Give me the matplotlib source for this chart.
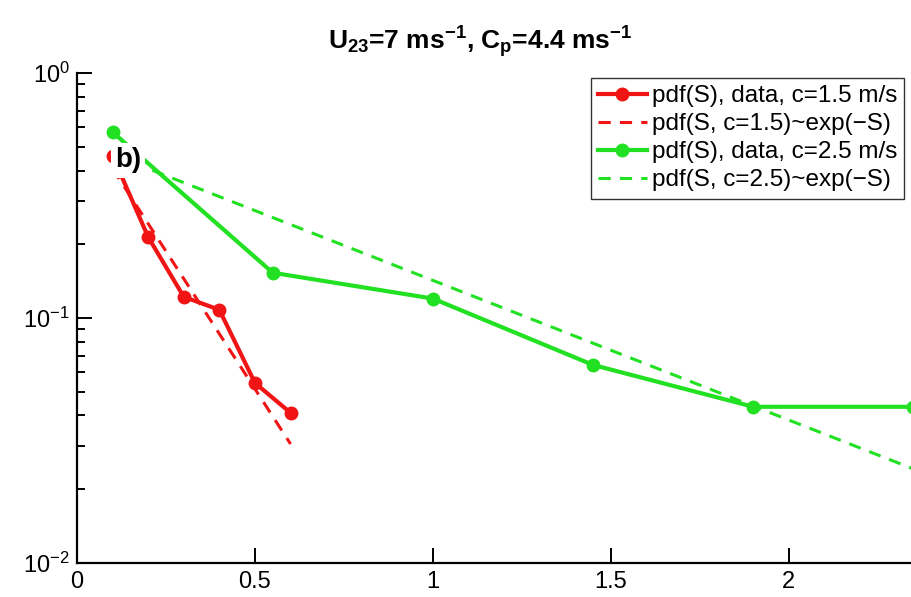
import matplotlib
matplotlib.use("Agg")
import matplotlib.pyplot as plt

plt.rcParams['font.family'] = ['Liberation Sans', 'DejaVu Sans']
plt.rcParams['mathtext.fontset'] = 'custom'
plt.rcParams['mathtext.rm'] = 'Liberation Sans'
plt.rcParams['mathtext.it'] = 'Liberation Sans:italic'
plt.rcParams['mathtext.bf'] = 'Liberation Sans:bold'

# data
s_red = [0.1, 0.2, 0.3, 0.4, 0.5, 0.6]
pdf_red = [0.46, 0.214, 0.122, 0.108, 0.0543, 0.041]
s_red_fit = [0.1, 0.6]
pdf_red_fit = [0.407, 0.0306]

s_green = [0.1, 0.55, 1.0, 1.45, 1.9, 2.35]
pdf_green = [0.574, 0.153, 0.12, 0.0643, 0.0434, 0.0434]
s_green_fit = [0.1, 2.35]
pdf_green_fit = [0.464, 0.0242]

xticks = [0, 0.5, 1, 1.5, 2]
xticklabels = ['0', '0.5', '1', '1.5', '2']

red = '#f01414'
green = '#22e022'

fig = plt.figure(figsize=(9.11, 5.97), dpi=100)
ax = fig.add_axes([0.0845, 0.057, 0.9155, 0.8207])

ax.plot(s_red, pdf_red, '-o', color=red, lw=3, ms=9, label='pdf(S), data, c=1.5 m/s')
ax.plot(s_red_fit, pdf_red_fit, '--', color=red, lw=2.2, dashes=(4, 3), label='pdf(S, c=1.5)~exp(\u2212S)')
ax.plot(s_green, pdf_green, '-o', color=green, lw=3, ms=9, label='pdf(S), data, c=2.5 m/s')
ax.plot(s_green_fit, pdf_green_fit, '--', color=green, lw=2.2, dashes=(4, 3), label='pdf(S, c=2.5)~exp(\u2212S)')

ax.set_yscale('log')
ax.set_ylim(1e-2, 1)
ax.set_xlim(0, 2.343)
ax.set_xticks(xticks)
ax.set_xticklabels(xticklabels)

for side in ['top', 'right']:
    ax.spines[side].set_visible(False)
for side in ['left', 'bottom']:
    ax.spines[side].set_linewidth(1.6)

ax.tick_params(which='major', direction='in', length=11, width=1.4, labelsize=17, pad=6)
ax.tick_params(axis='y', which='minor', direction='in', length=5.5, width=1.4)
ax.tick_params(axis='y', which='major', pad=5)

ax.text(0.143, 0.44, 'b)', fontsize=20, fontweight='bold', ha='center', va='center',
        bbox=dict(facecolor='white', edgecolor='none', pad=3), zorder=5)

leg = ax.legend(loc='upper right', bbox_to_anchor=(0.992, 0.99), fontsize=17.5,
                frameon=True, fancybox=False, handlelength=2.0, handletextpad=0.2,
                borderpad=0.3, labelspacing=0.25, borderaxespad=0)
leg.get_frame().set_edgecolor('black')
leg.get_frame().set_linewidth(1.0)

fig.text(0.527, 0.93, r'$\mathbf{U_{23}}$=7 ms$^{\mathbf{-1}}$, $\mathbf{C_p}$=4.4 ms$^{\mathbf{-1}}$',
         fontsize=19, fontweight='bold', ha='center', va='center')

fig.savefig('out.png', dpi=100)
